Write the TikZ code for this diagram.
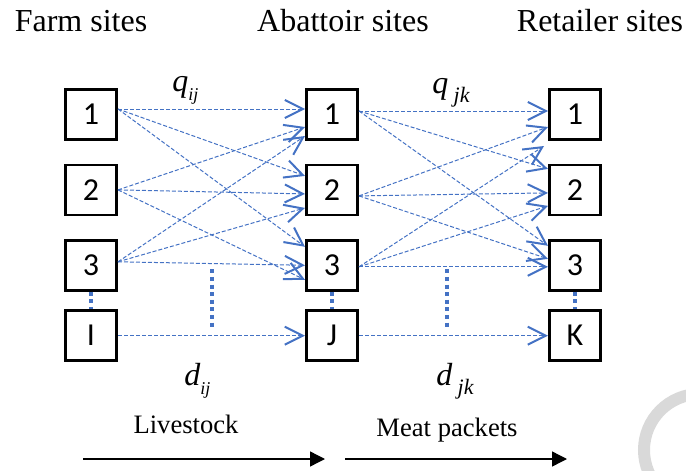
\documentclass[tikz,border=0pt]{standalone}
\usepackage{fontspec}
\setmainfont{Liberation Serif}
\newfontfamily\carlito{Carlito}
\usepackage{xcolor}
\usepackage{tikz}
\usetikzlibrary{arrows.meta, positioning, calc}
\definecolor{flowblue}{RGB}{68,114,196}
\tikzstyle{site} = [rectangle, draw, line width=1.4pt, minimum width=25.6pt, minimum height=25pt, inner sep=0pt, font=\carlito\fontsize{16}{16}\selectfont]
\tikzstyle{flow} = [draw, flowblue, line width=0.5pt, dash pattern=on 2pt off 1pt, -{Straight Barb[length=9pt,width=9pt,line width=1pt]}]
\tikzstyle{link} = [draw, flowblue, line width=2pt, dash pattern=on 2pt off 1.8pt]
\tikzstyle{stage} = [draw, black, line width=0.7pt, -{Triangle[length=7.5pt,width=7.5pt]}]
\tikzstyle{head} = [font=\fontsize{16}{16}\selectfont, anchor=base, inner sep=0pt]
\tikzstyle{goods} = [font=\fontsize{13.3}{14}\selectfont, anchor=base, inner sep=0pt]
\tikzstyle{qty} = [font=\fontsize{16}{16}\selectfont\itshape, anchor=base west, inner sep=0pt]
\newcommand{\lowsub}[2]{\raisebox{-0.3em}{\fontsize{#1}{#1}\selectfont #2}}

\begin{document}
\begin{tikzpicture}[x=0.5pt, y=-0.5pt, node distance=11.3pt]
    \useasboundingbox (0,0) rectangle (686,471);

    % column titles
    \node (farm) [head] at (81,32) {Farm sites};
    \node (abat) [head] at (343,32) {Abattoir sites};
    \node (reta) [head] at (600,32) {Retailer sites};

    % farm sites
    \node (f1) [site] at (91,114.5) {1};
    \node (f2) [site, below=of f1] {2};
    \node (f3) [site, below=of f2] {3};
    \node (fI) [site, below=8.8pt of f3] {I};

    % abattoir sites
    \node (a1) [site, right=93.5pt of f1] {1};
    \node (a2) [site, below=of a1] {2};
    \node (a3) [site, below=of a2] {3};
    \node (aJ) [site, below=8.8pt of a3] {J};

    % retailer sites
    \node (r1) [site, right=94.5pt of a1] {1};
    \node (r2) [site, below=of r1] {2};
    \node (r3) [site, below=of r2] {3};
    \node (rK) [site, below=8.8pt of r3] {K};

    % livestock flows q_ij
    \draw [flow] ([yshift=2.75pt]f1.east) -- ([yshift=2.75pt]a1.west);
    \draw [flow] ([yshift=2.75pt]f1.east) -- ([yshift=7pt]a2.west);
    \draw [flow] ([yshift=2.75pt]f1.east) -- ([yshift=9.25pt]a3.west);
    \draw [flow] (f2.east) -- ([yshift=-6.25pt]a1.west);
    \draw [flow] (f2.east) -- ([yshift=-2pt]a2.west);
    \draw [flow] (f2.east) -- ([yshift=-7.25pt]a3.west);
    \draw [flow] ([yshift=1.75pt]f3.east) -- ([yshift=-10.75pt]a1.west);
    \draw [flow] ([yshift=1.75pt]f3.east) -- ([yshift=-9pt]a2.west);
    \draw [flow] ([yshift=1.75pt]f3.east) -- (a3.west);
    \draw [flow] (fI.east) -- (aJ.west);

    % meat flows q_jk
    \draw [flow] ([yshift=1.75pt]a1.east) -- ([yshift=1.75pt]r1.west);
    \draw [flow] ([yshift=1.75pt]a1.east) -- ([yshift=10.5pt]r2.west);
    \draw [flow] ([yshift=1.75pt]a1.east) -- ([yshift=9.75pt]r3.west);
    \draw [flow] ([yshift=-3pt]a2.east) -- ([yshift=-6.25pt]r1.west);
    \draw [flow] ([yshift=-3pt]a2.east) -- ([yshift=-1.5pt]r2.west);
    \draw [flow] ([yshift=-3pt]a2.east) -- ([yshift=3.25pt]r3.west);
    \draw [flow] ([yshift=-0.75pt]a3.east) -- ([xshift=-2pt, yshift=-15.75pt]r1.west);
    \draw [flow] ([yshift=-0.75pt]a3.east) -- ([yshift=-8pt]r2.west);
    \draw [flow] ([yshift=-0.75pt]a3.east) -- ([yshift=-0.75pt]r3.west);
    \draw [flow] (aJ.east) -- (rK.west);

    % dots between the last rows
    \draw [link] (f3.south) -- (fI.north);
    \draw [link] (a3.south) -- (aJ.north);
    \draw [link] (r3.south) -- (rK.north);
    \coordinate (drop1) at ($(f3.east)!0.5!(a3.west)+(0,-2pt)$);
    \coordinate (land1) at ($(fI.east)!0.5!(aJ.west)+(0,4pt)$);
    \coordinate (drop2) at ($(a3.east)!0.467!(r3.west)+(0,-2pt)$);
    \coordinate (land2) at ($(aJ.east)!0.467!(rK.west)+(0,4pt)$);
    \draw [link] (drop1) -- (land1);
    \draw [link] (drop2) -- (land2);

    % flow and distance labels
    \node (qij) [qty] at (172,91) {q\lowsub{9}{ij}};
    \node (qjk) [qty] at (432,93) {q\,\lowsub{11}{jk}};
    \node (dij) [qty] at (184,385) {d\lowsub{9}{ij}};
    \node (djk) [qty] at (436,385) {d\,\lowsub{11}{jk}};

    % products
    \node (live) [goods] at (186,433) {Livestock};
    \node (meat) [goods] at (447,436) {Meat packets};
    \coordinate (lv0) at (83,459);
    \coordinate (lv1) at (325,459);
    \coordinate (mp0) at (345,459);
    \coordinate (mp1) at (567,459);
    \draw [stage] (lv0) -- (lv1);
    \draw [stage] (mp0) -- (mp1);

    % faint mark in the corner
    \draw [black!15, line width=6pt] (700,450) circle (28pt);
\end{tikzpicture}
\end{document}
